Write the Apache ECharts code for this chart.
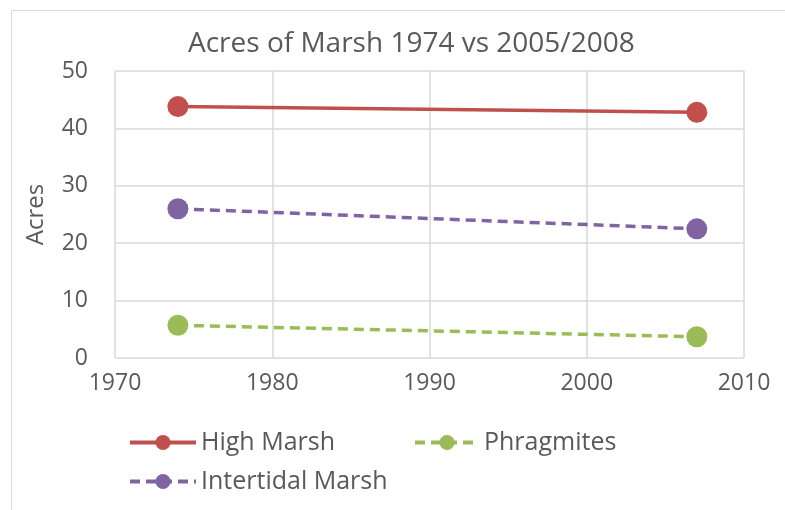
<!DOCTYPE html>
<html>
<head>
<meta charset="utf-8">
<script src="https://cdn.jsdelivr.net/npm/echarts@6/dist/echarts.min.js"></script>
<style>
html, body { margin: 0; padding: 0; background: #fff; }
#chart { width: 785px; height: 510px; }
</style>
</head>
<body>
<div id="chart"></div>
<script>
var years = [1974, 2007];
var highMarsh = [43.8, 42.8];
var phragmites = [5.7, 3.7];
var intertidal = [26.0, 22.5];
var xTicks = [1970, 1980, 1990, 2000, 2010];
var yTicks = [0, 10, 20, 30, 40, 50];

function pairs(xs, ys) {
	var out = [];
	for (var i = 0; i < xs.length; i++) {
		out.push([xs[i], ys[i]]);
	}
	return out;
}

var txt = '#595959';
var font = 'Open Sans';

function mkSeries(name, data, color, dashed) {
	return {
		name: name,
		type: 'line',
		data: pairs(years, data),
		symbol: 'circle',
		symbolSize: 21,
		itemStyle: { color: color },
		lineStyle: { color: color, width: 3.5, type: dashed ? [10, 6] : 'solid' },
		emphasis: { disabled: true }
	};
}

var legendText = { color: txt, fontSize: 25, fontFamily: font };

var option = {
	animation: false,
	backgroundColor: '#fff',
	textStyle: { fontFamily: font },
	title: {
		text: 'Acres of Marsh 1974 vs 2005/2008',
		left: 183,
		top: 25,
		textStyle: { color: txt, fontSize: 28, fontWeight: 'normal', fontFamily: font }
	},
	graphic: [{
		type: 'rect',
		shape: { x: 11.5, y: 10.5, width: 800, height: 520 },
		style: { fill: 'none', stroke: '#d9d9d9', lineWidth: 1 },
		silent: true
	}],
	legend: [{
		data: ['High Marsh', 'Intertidal Marsh'],
		orient: 'vertical',
		left: 123,
		top: 425,
		itemWidth: 66,
		itemHeight: 19,
		itemGap: 14,
		lineStyle: { width: 4 },
		textStyle: legendText
	}, {
		data: ['Phragmites'],
		orient: 'vertical',
		left: 408,
		top: 425,
		itemWidth: 64,
		itemHeight: 19,
		lineStyle: { width: 4 },
		textStyle: legendText
	}],
	grid: { left: 115, right: 41, top: 71, bottom: 152 },
	xAxis: {
		type: 'value',
		min: xTicks[0],
		max: xTicks[xTicks.length - 1],
		interval: 10,
		axisLine: { show: false },
		axisTick: { show: false },
		axisLabel: { color: txt, fontSize: 23, margin: 14, fontFamily: font, formatter: function (v) { return String(v); } },
		splitLine: { show: true, lineStyle: { color: '#d9d9d9', width: 1.5 } }
	},
	yAxis: {
		type: 'value',
		min: yTicks[0],
		max: yTicks[yTicks.length - 1],
		interval: 10,
		name: 'Acres',
		nameLocation: 'middle',
		nameGap: 67,
		nameTextStyle: { color: txt, fontSize: 24, fontFamily: font },
		axisLine: { show: false },
		axisTick: { show: false },
		axisLabel: { color: txt, fontSize: 23, margin: 27, fontFamily: font },
		splitLine: { show: true, lineStyle: { color: '#d9d9d9', width: 1.5 } }
	},
	series: [
		mkSeries('High Marsh', highMarsh, '#c0504d', false),
		mkSeries('Phragmites', phragmites, '#9bbb59', true),
		mkSeries('Intertidal Marsh', intertidal, '#8064a2', true)
	]
};

var myChart = echarts.init(document.getElementById('chart'));
myChart.setOption(option);
</script>
</body>
</html>
